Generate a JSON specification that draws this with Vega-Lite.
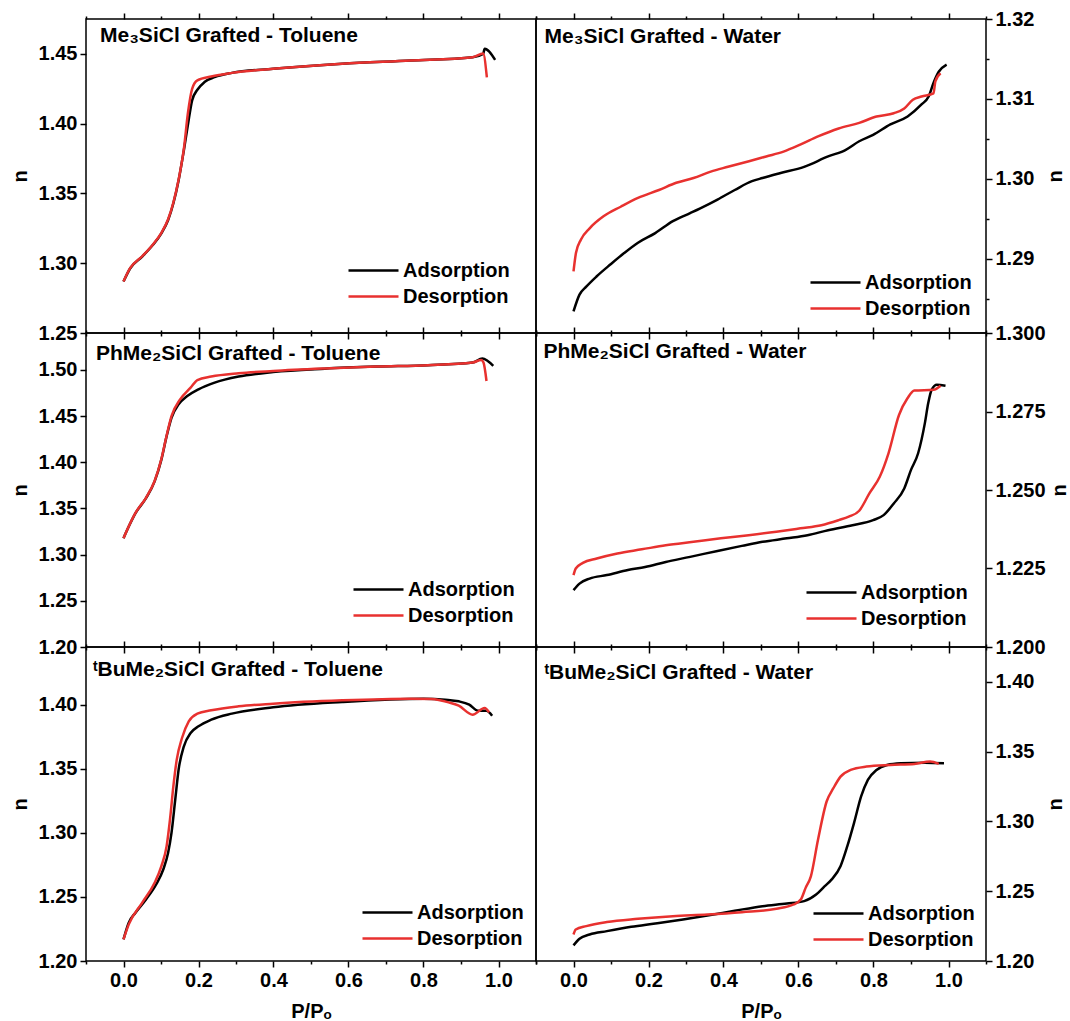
{
"$schema":"https://vega.github.io/schema/vega-lite/v6.json",
"padding":{"left":9,"top":8,"right":2,"bottom":0},
"background":"white",
"config":{
 "view":{"stroke":"black","strokeWidth":1.5},
 "concat":{"spacing":0},
 "axis":{"grid":false,"domain":false,"tickColor":"black","tickWidth":1.5,"labelFont":"Liberation Sans","labelFontSize":20,"labelFontWeight":"bold","labelColor":"black","titleFont":"Liberation Sans","titleFontSize":20,"titleFontWeight":"bold","titleColor":"black","labelOverlap":false,"labelFlush":false,"labelPadding":3},
 "axisLeft":{"titlePadding":8},
 "axisRight":{"titlePadding":12,"titleAngle":270,"titleBaseline":"top"},
 "legend":{"title":null,"orient":"bottom-right","symbolType":"M-2.5,0L2.5,0","symbolSize":400,"symbolStrokeWidth":2.5,"labelFont":"Liberation Sans","labelFontSize":20,"labelFontWeight":"bold","labelColor":"black","labelOffset":18,"rowPadding":4,"padding":0},
 "text":{"font":"Liberation Sans"}
},
"datasets":{
"p1":[
{"x":0,"n":1.2869,"branch":"Adsorption"},{"x":0.018,"n":1.2964,"branch":"Adsorption"},{"x":0.05,"n":1.3048,"branch":"Adsorption"},{"x":0.078,"n":1.313,"branch":"Adsorption"},{"x":0.101,"n":1.3214,"branch":"Adsorption"},{"x":0.119,"n":1.331,"branch":"Adsorption"},{"x":0.133,"n":1.343,"branch":"Adsorption"},{"x":0.147,"n":1.3595,"branch":"Adsorption"},{"x":0.161,"n":1.381,"branch":"Adsorption"},{"x":0.174,"n":1.403,"branch":"Adsorption"},{"x":0.183,"n":1.4167,"branch":"Adsorption"},{"x":0.197,"n":1.4243,"branch":"Adsorption"},{"x":0.216,"n":1.4298,"branch":"Adsorption"},{"x":0.243,"n":1.4333,"branch":"Adsorption"},{"x":0.289,"n":1.4364,"branch":"Adsorption"},{"x":0.399,"n":1.4393,"branch":"Adsorption"},{"x":0.583,"n":1.4429,"branch":"Adsorption"},{"x":0.766,"n":1.4452,"branch":"Adsorption"},{"x":0.931,"n":1.4476,"branch":"Adsorption"},{"x":0.959,"n":1.45,"branch":"Adsorption"},{"x":0.963,"n":1.4536,"branch":"Adsorption"},{"x":0.991,"n":1.4457,"branch":"Adsorption"},
{"x":0,"n":1.2869,"branch":"Desorption"},{"x":0.018,"n":1.2966,"branch":"Desorption"},{"x":0.05,"n":1.305,"branch":"Desorption"},{"x":0.078,"n":1.3133,"branch":"Desorption"},{"x":0.101,"n":1.3218,"branch":"Desorption"},{"x":0.119,"n":1.3315,"branch":"Desorption"},{"x":0.133,"n":1.3435,"branch":"Desorption"},{"x":0.147,"n":1.36,"branch":"Desorption"},{"x":0.161,"n":1.382,"branch":"Desorption"},{"x":0.172,"n":1.408,"branch":"Desorption"},{"x":0.183,"n":1.425,"branch":"Desorption"},{"x":0.197,"n":1.431,"branch":"Desorption"},{"x":0.234,"n":1.4338,"branch":"Desorption"},{"x":0.289,"n":1.4364,"branch":"Desorption"},{"x":0.399,"n":1.4393,"branch":"Desorption"},{"x":0.583,"n":1.4429,"branch":"Desorption"},{"x":0.766,"n":1.4452,"branch":"Desorption"},{"x":0.931,"n":1.4476,"branch":"Desorption"},{"x":0.959,"n":1.4502,"branch":"Desorption"},{"x":0.969,"n":1.4331,"branch":"Desorption"}
],
"p2":[
{"x":0,"n":1.2834,"branch":"Adsorption"},{"x":0.016,"n":1.2855,"branch":"Adsorption"},{"x":0.034,"n":1.2865,"branch":"Adsorption"},{"x":0.062,"n":1.2878,"branch":"Adsorption"},{"x":0.099,"n":1.2893,"branch":"Adsorption"},{"x":0.135,"n":1.2907,"branch":"Adsorption"},{"x":0.172,"n":1.292,"branch":"Adsorption"},{"x":0.218,"n":1.2932,"branch":"Adsorption"},{"x":0.265,"n":1.2947,"branch":"Adsorption"},{"x":0.311,"n":1.2957,"branch":"Adsorption"},{"x":0.338,"n":1.2963,"branch":"Adsorption"},{"x":0.384,"n":1.2974,"branch":"Adsorption"},{"x":0.43,"n":1.2986,"branch":"Adsorption"},{"x":0.476,"n":1.2997,"branch":"Adsorption"},{"x":0.504,"n":1.3001,"branch":"Adsorption"},{"x":0.55,"n":1.3007,"branch":"Adsorption"},{"x":0.615,"n":1.3015,"branch":"Adsorption"},{"x":0.679,"n":1.3028,"branch":"Adsorption"},{"x":0.725,"n":1.3036,"branch":"Adsorption"},{"x":0.762,"n":1.3047,"branch":"Adsorption"},{"x":0.799,"n":1.3055,"branch":"Adsorption"},{"x":0.845,"n":1.3068,"branch":"Adsorption"},{"x":0.891,"n":1.3078,"branch":"Adsorption"},{"x":0.928,"n":1.3093,"branch":"Adsorption"},{"x":0.947,"n":1.3103,"branch":"Adsorption"},{"x":0.96,"n":1.312,"branch":"Adsorption"},{"x":0.974,"n":1.3134,"branch":"Adsorption"},{"x":0.995,"n":1.3143,"branch":"Adsorption"},
{"x":0,"n":1.2884,"branch":"Desorption"},{"x":0.0065,"n":1.2907,"branch":"Desorption"},{"x":0.02,"n":1.2924,"branch":"Desorption"},{"x":0.043,"n":1.2938,"branch":"Desorption"},{"x":0.08,"n":1.2953,"branch":"Desorption"},{"x":0.126,"n":1.2965,"branch":"Desorption"},{"x":0.172,"n":1.2976,"branch":"Desorption"},{"x":0.228,"n":1.2986,"branch":"Desorption"},{"x":0.274,"n":1.2995,"branch":"Desorption"},{"x":0.32,"n":1.3001,"branch":"Desorption"},{"x":0.366,"n":1.3009,"branch":"Desorption"},{"x":0.412,"n":1.3015,"branch":"Desorption"},{"x":0.468,"n":1.3022,"branch":"Desorption"},{"x":0.514,"n":1.3028,"branch":"Desorption"},{"x":0.56,"n":1.3034,"branch":"Desorption"},{"x":0.606,"n":1.3043,"branch":"Desorption"},{"x":0.652,"n":1.3053,"branch":"Desorption"},{"x":0.707,"n":1.3063,"branch":"Desorption"},{"x":0.762,"n":1.307,"branch":"Desorption"},{"x":0.808,"n":1.3078,"branch":"Desorption"},{"x":0.854,"n":1.3082,"branch":"Desorption"},{"x":0.882,"n":1.3088,"branch":"Desorption"},{"x":0.905,"n":1.3099,"branch":"Desorption"},{"x":0.928,"n":1.3103,"branch":"Desorption"},{"x":0.96,"n":1.3107,"branch":"Desorption"},{"x":0.965,"n":1.3122,"branch":"Desorption"},{"x":0.979,"n":1.3132,"branch":"Desorption"}
],
"p3":[
{"x":0,"n":1.3178,"branch":"Adsorption"},{"x":0.014,"n":1.3304,"branch":"Adsorption"},{"x":0.032,"n":1.3449,"branch":"Adsorption"},{"x":0.06,"n":1.3612,"branch":"Adsorption"},{"x":0.083,"n":1.3793,"branch":"Adsorption"},{"x":0.101,"n":1.4029,"branch":"Adsorption"},{"x":0.115,"n":1.4283,"branch":"Adsorption"},{"x":0.128,"n":1.4482,"branch":"Adsorption"},{"x":0.147,"n":1.4627,"branch":"Adsorption"},{"x":0.17,"n":1.4717,"branch":"Adsorption"},{"x":0.2,"n":1.479,"branch":"Adsorption"},{"x":0.243,"n":1.4862,"branch":"Adsorption"},{"x":0.307,"n":1.4928,"branch":"Adsorption"},{"x":0.399,"n":1.4978,"branch":"Adsorption"},{"x":0.537,"n":1.5014,"branch":"Adsorption"},{"x":0.674,"n":1.5036,"branch":"Adsorption"},{"x":0.812,"n":1.5051,"branch":"Adsorption"},{"x":0.931,"n":1.508,"branch":"Adsorption"},{"x":0.957,"n":1.5123,"branch":"Adsorption"},{"x":0.986,"n":1.5043,"branch":"Adsorption"},
{"x":0,"n":1.3178,"branch":"Desorption"},{"x":0.014,"n":1.3306,"branch":"Desorption"},{"x":0.032,"n":1.3452,"branch":"Desorption"},{"x":0.06,"n":1.3616,"branch":"Desorption"},{"x":0.083,"n":1.3798,"branch":"Desorption"},{"x":0.101,"n":1.4035,"branch":"Desorption"},{"x":0.115,"n":1.429,"branch":"Desorption"},{"x":0.128,"n":1.45,"branch":"Desorption"},{"x":0.151,"n":1.4681,"branch":"Desorption"},{"x":0.179,"n":1.4808,"branch":"Desorption"},{"x":0.197,"n":1.4891,"branch":"Desorption"},{"x":0.234,"n":1.4928,"branch":"Desorption"},{"x":0.307,"n":1.4964,"branch":"Desorption"},{"x":0.399,"n":1.4989,"branch":"Desorption"},{"x":0.537,"n":1.5016,"branch":"Desorption"},{"x":0.674,"n":1.5037,"branch":"Desorption"},{"x":0.812,"n":1.5052,"branch":"Desorption"},{"x":0.931,"n":1.508,"branch":"Desorption"},{"x":0.954,"n":1.5109,"branch":"Desorption"},{"x":0.96,"n":1.508,"branch":"Desorption"},{"x":0.968,"n":1.488,"branch":"Desorption"}
],
"p4":[
{"x":0,"n":1.2181,"branch":"Adsorption"},{"x":0.016,"n":1.2202,"branch":"Adsorption"},{"x":0.043,"n":1.2218,"branch":"Adsorption"},{"x":0.089,"n":1.2229,"branch":"Adsorption"},{"x":0.145,"n":1.2245,"branch":"Adsorption"},{"x":0.191,"n":1.2255,"branch":"Adsorption"},{"x":0.246,"n":1.2271,"branch":"Adsorption"},{"x":0.311,"n":1.2287,"branch":"Adsorption"},{"x":0.384,"n":1.2306,"branch":"Adsorption"},{"x":0.449,"n":1.2322,"branch":"Adsorption"},{"x":0.504,"n":1.2335,"branch":"Adsorption"},{"x":0.569,"n":1.2346,"branch":"Adsorption"},{"x":0.624,"n":1.2356,"branch":"Adsorption"},{"x":0.679,"n":1.2372,"branch":"Adsorption"},{"x":0.744,"n":1.2388,"branch":"Adsorption"},{"x":0.799,"n":1.2404,"branch":"Adsorption"},{"x":0.827,"n":1.242,"branch":"Adsorption"},{"x":0.854,"n":1.2457,"branch":"Adsorption"},{"x":0.882,"n":1.2505,"branch":"Adsorption"},{"x":0.9,"n":1.2564,"branch":"Adsorption"},{"x":0.919,"n":1.2617,"branch":"Adsorption"},{"x":0.937,"n":1.2713,"branch":"Adsorption"},{"x":0.946,"n":1.2777,"branch":"Adsorption"},{"x":0.955,"n":1.2819,"branch":"Adsorption"},{"x":0.969,"n":1.2835,"branch":"Adsorption"},{"x":0.992,"n":1.2832,"branch":"Adsorption"},
{"x":0,"n":1.2229,"branch":"Desorption"},{"x":0.006,"n":1.225,"branch":"Desorption"},{"x":0.025,"n":1.2268,"branch":"Desorption"},{"x":0.062,"n":1.2282,"branch":"Desorption"},{"x":0.117,"n":1.2298,"branch":"Desorption"},{"x":0.182,"n":1.2311,"branch":"Desorption"},{"x":0.246,"n":1.2324,"branch":"Desorption"},{"x":0.32,"n":1.2335,"branch":"Desorption"},{"x":0.393,"n":1.2346,"branch":"Desorption"},{"x":0.467,"n":1.2356,"branch":"Desorption"},{"x":0.541,"n":1.2367,"branch":"Desorption"},{"x":0.605,"n":1.2378,"branch":"Desorption"},{"x":0.661,"n":1.2388,"branch":"Desorption"},{"x":0.707,"n":1.2404,"branch":"Desorption"},{"x":0.734,"n":1.2415,"branch":"Desorption"},{"x":0.762,"n":1.2434,"branch":"Desorption"},{"x":0.789,"n":1.2489,"branch":"Desorption"},{"x":0.817,"n":1.2543,"branch":"Desorption"},{"x":0.84,"n":1.2617,"branch":"Desorption"},{"x":0.868,"n":1.2739,"branch":"Desorption"},{"x":0.891,"n":1.2793,"branch":"Desorption"},{"x":0.909,"n":1.2817,"branch":"Desorption"},{"x":0.96,"n":1.2819,"branch":"Desorption"},{"x":0.979,"n":1.2832,"branch":"Desorption"}
],
"p5":[
{"x":0,"n":1.2169,"branch":"Adsorption"},{"x":0.014,"n":1.2299,"branch":"Adsorption"},{"x":0.032,"n":1.2377,"branch":"Adsorption"},{"x":0.06,"n":1.248,"branch":"Adsorption"},{"x":0.087,"n":1.2597,"branch":"Adsorption"},{"x":0.106,"n":1.2714,"branch":"Adsorption"},{"x":0.119,"n":1.2844,"branch":"Adsorption"},{"x":0.128,"n":1.3,"branch":"Adsorption"},{"x":0.138,"n":1.326,"branch":"Adsorption"},{"x":0.147,"n":1.3494,"branch":"Adsorption"},{"x":0.161,"n":1.3675,"branch":"Adsorption"},{"x":0.179,"n":1.3779,"branch":"Adsorption"},{"x":0.2,"n":1.3831,"branch":"Adsorption"},{"x":0.234,"n":1.3883,"branch":"Adsorption"},{"x":0.289,"n":1.393,"branch":"Adsorption"},{"x":0.399,"n":1.3979,"branch":"Adsorption"},{"x":0.583,"n":1.4021,"branch":"Adsorption"},{"x":0.8,"n":1.4047,"branch":"Adsorption"},{"x":0.858,"n":1.4039,"branch":"Adsorption"},{"x":0.894,"n":1.4026,"branch":"Adsorption"},{"x":0.922,"n":1.4,"branch":"Adsorption"},{"x":0.945,"n":1.3953,"branch":"Adsorption"},{"x":0.968,"n":1.3953,"branch":"Adsorption"},{"x":0.983,"n":1.3914,"branch":"Adsorption"},
{"x":0,"n":1.2169,"branch":"Desorption"},{"x":0.014,"n":1.2286,"branch":"Desorption"},{"x":0.05,"n":1.2455,"branch":"Desorption"},{"x":0.083,"n":1.261,"branch":"Desorption"},{"x":0.101,"n":1.274,"branch":"Desorption"},{"x":0.115,"n":1.2896,"branch":"Desorption"},{"x":0.124,"n":1.3104,"branch":"Desorption"},{"x":0.133,"n":1.3364,"branch":"Desorption"},{"x":0.142,"n":1.3571,"branch":"Desorption"},{"x":0.156,"n":1.374,"branch":"Desorption"},{"x":0.174,"n":1.387,"branch":"Desorption"},{"x":0.197,"n":1.393,"branch":"Desorption"},{"x":0.234,"n":1.3956,"branch":"Desorption"},{"x":0.307,"n":1.3987,"branch":"Desorption"},{"x":0.399,"n":1.4008,"branch":"Desorption"},{"x":0.583,"n":1.4034,"branch":"Desorption"},{"x":0.766,"n":1.4047,"branch":"Desorption"},{"x":0.821,"n":1.4044,"branch":"Desorption"},{"x":0.867,"n":1.4018,"branch":"Desorption"},{"x":0.894,"n":1.3992,"branch":"Desorption"},{"x":0.931,"n":1.3922,"branch":"Desorption"},{"x":0.963,"n":1.3974,"branch":"Desorption"},{"x":0.975,"n":1.394,"branch":"Desorption"}
],
"p6":[
{"x":0,"n":1.2112,"branch":"Adsorption"},{"x":0.016,"n":1.216,"branch":"Adsorption"},{"x":0.043,"n":1.219,"branch":"Adsorption"},{"x":0.089,"n":1.2214,"branch":"Adsorption"},{"x":0.154,"n":1.2245,"branch":"Adsorption"},{"x":0.218,"n":1.2269,"branch":"Adsorption"},{"x":0.292,"n":1.2298,"branch":"Adsorption"},{"x":0.357,"n":1.2326,"branch":"Adsorption"},{"x":0.43,"n":1.236,"branch":"Adsorption"},{"x":0.504,"n":1.2393,"branch":"Adsorption"},{"x":0.569,"n":1.2412,"branch":"Adsorption"},{"x":0.615,"n":1.2429,"branch":"Adsorption"},{"x":0.647,"n":1.2476,"branch":"Adsorption"},{"x":0.67,"n":1.2536,"branch":"Adsorption"},{"x":0.688,"n":1.2583,"branch":"Adsorption"},{"x":0.712,"n":1.2679,"branch":"Adsorption"},{"x":0.73,"n":1.2821,"branch":"Adsorption"},{"x":0.748,"n":1.2988,"branch":"Adsorption"},{"x":0.767,"n":1.3179,"branch":"Adsorption"},{"x":0.785,"n":1.3298,"branch":"Adsorption"},{"x":0.808,"n":1.3369,"branch":"Adsorption"},{"x":0.836,"n":1.3405,"branch":"Adsorption"},{"x":0.873,"n":1.3417,"branch":"Adsorption"},{"x":0.937,"n":1.3421,"branch":"Adsorption"},{"x":0.988,"n":1.3417,"branch":"Adsorption"},
{"x":0,"n":1.219,"branch":"Desorption"},{"x":0.006,"n":1.2226,"branch":"Desorption"},{"x":0.034,"n":1.225,"branch":"Desorption"},{"x":0.089,"n":1.2279,"branch":"Desorption"},{"x":0.172,"n":1.2302,"branch":"Desorption"},{"x":0.265,"n":1.2321,"branch":"Desorption"},{"x":0.357,"n":1.2333,"branch":"Desorption"},{"x":0.449,"n":1.235,"branch":"Desorption"},{"x":0.541,"n":1.2374,"branch":"Desorption"},{"x":0.587,"n":1.2405,"branch":"Desorption"},{"x":0.606,"n":1.244,"branch":"Desorption"},{"x":0.619,"n":1.2524,"branch":"Desorption"},{"x":0.633,"n":1.2607,"branch":"Desorption"},{"x":0.652,"n":1.2869,"branch":"Desorption"},{"x":0.675,"n":1.3143,"branch":"Desorption"},{"x":0.693,"n":1.3238,"branch":"Desorption"},{"x":0.712,"n":1.3321,"branch":"Desorption"},{"x":0.739,"n":1.3369,"branch":"Desorption"},{"x":0.781,"n":1.3393,"branch":"Desorption"},{"x":0.845,"n":1.3405,"branch":"Desorption"},{"x":0.909,"n":1.3412,"branch":"Desorption"},{"x":0.951,"n":1.3429,"branch":"Desorption"},{"x":0.974,"n":1.3412,"branch":"Desorption"}
]
},
"columns":2,
"bounds":"flush",
"spacing":0,
"resolve":{"scale":{"color":"independent"},"legend":{"color":"independent"}},
"concat":[
{
 "width":450,"height":314,
 "layer":[
  {"data":{"name":"p1"},"mark":{"type":"line","strokeWidth":2.5,"interpolate":"monotone"},
   "encoding":{
    "x":{"field":"x","type":"quantitative","scale":{"domain":[-0.1,1.1],"nice":false,"zero":false},"axis":{"orient":"bottom","title":null,"labels":false,"values":[-0.1,0,0.1,0.2,0.3,0.4,0.5,0.6,0.7,0.8,0.9,1,1.1],"tickSize":{"condition":{"test":"abs(datum.value*5-round(datum.value*5))<0.01","value":6},"value":3}}},
    "y":{"field":"n","type":"quantitative","scale":{"domain":[1.25,1.475],"nice":false,"zero":false},"axis":{"orient":"left","title":"n","format":".2f","values":[1.25,1.275,1.3,1.325,1.35,1.375,1.4,1.425,1.45],"labelExpr":"abs(datum.value*20-round(datum.value*20))<0.01 ? datum.label : ''","tickSize":{"condition":{"test":"abs(datum.value*20-round(datum.value*20))<0.01","value":6},"value":3}}},
    "color":{"field":"branch","type":"nominal","scale":{"domain":["Adsorption","Desorption"],"range":["#000000","#e8312f"]},"legend":{"offset":26}}
   }},
  {"data":{"values":[{}]},"mark":{"type":"text","align":"left","baseline":"alphabetic","fontSize":21,"fontWeight":"bold","color":"black"},
   "encoding":{
    "x":{"datum":-0.0627,"type":"quantitative","axis":{"orient":"top","title":null,"labels":false,"values":[-0.1,0,0.1,0.2,0.3,0.4,0.5,0.6,0.7,0.8,0.9,1,1.1],"tickSize":{"condition":{"test":"abs(datum.value*5-round(datum.value*5))<0.01","value":6},"value":3}}},
    "y":{"datum":1.4582,"type":"quantitative"},
    "text":{"value":"Me₃SiCl Grafted - Toluene"}}}
 ],
 "resolve":{"axis":{"x":"independent"}}
},
{
 "width":450,"height":314,
 "layer":[
  {"data":{"name":"p2"},"mark":{"type":"line","strokeWidth":2.5,"interpolate":"monotone"},
   "encoding":{
    "x":{"field":"x","type":"quantitative","scale":{"domain":[-0.1,1.1],"nice":false,"zero":false},"axis":{"orient":"bottom","title":null,"labels":false,"values":[-0.1,0,0.1,0.2,0.3,0.4,0.5,0.6,0.7,0.8,0.9,1,1.1],"tickSize":{"condition":{"test":"abs(datum.value*5-round(datum.value*5))<0.01","value":6},"value":3}}},
    "y":{"field":"n","type":"quantitative","scale":{"domain":[1.2807,1.32],"nice":false,"zero":false},"axis":{"orient":"right","title":"n","format":".2f","values":[1.285,1.29,1.295,1.3,1.305,1.31,1.315,1.32],"labelExpr":"abs(datum.value*100-round(datum.value*100))<0.01 ? datum.label : ''","tickSize":{"condition":{"test":"abs(datum.value*100-round(datum.value*100))<0.01","value":6},"value":3}}},
    "color":{"field":"branch","type":"nominal","scale":{"domain":["Adsorption","Desorption"],"range":["#000000","#e8312f"]},"legend":{"offset":14}}
   }},
  {"data":{"values":[{}]},"mark":{"type":"text","align":"left","baseline":"alphabetic","fontSize":21,"fontWeight":"bold","color":"black"},
   "encoding":{
    "x":{"datum":-0.0773,"type":"quantitative","axis":{"orient":"top","title":null,"labels":false,"values":[-0.1,0,0.1,0.2,0.3,0.4,0.5,0.6,0.7,0.8,0.9,1,1.1],"tickSize":{"condition":{"test":"abs(datum.value*5-round(datum.value*5))<0.01","value":6},"value":3}}},
    "y":{"datum":1.317,"type":"quantitative"},
    "text":{"value":"Me₃SiCl Grafted - Water"}}}
 ],
 "resolve":{"axis":{"x":"independent"}}
},
{
 "width":450,"height":314,
 "layer":[
  {"data":{"name":"p3"},"mark":{"type":"line","strokeWidth":2.5,"interpolate":"monotone"},
   "encoding":{
    "x":{"field":"x","type":"quantitative","scale":{"domain":[-0.1,1.1],"nice":false,"zero":false},"axis":{"orient":"bottom","title":null,"labels":false,"values":[-0.1,0,0.1,0.2,0.3,0.4,0.5,0.6,0.7,0.8,0.9,1,1.1],"tickSize":{"condition":{"test":"abs(datum.value*5-round(datum.value*5))<0.01","value":6},"value":3}}},
    "y":{"field":"n","type":"quantitative","scale":{"domain":[1.2,1.54],"nice":false,"zero":false},"axis":{"orient":"left","title":"n","format":".2f","values":[1.2,1.225,1.25,1.275,1.3,1.325,1.35,1.375,1.4,1.425,1.45,1.475,1.5,1.525],"labelExpr":"abs(datum.value*20-round(datum.value*20))<0.01 ? datum.label : ''","tickSize":{"condition":{"test":"abs(datum.value*20-round(datum.value*20))<0.01","value":6},"value":3}}},
    "color":{"field":"branch","type":"nominal","scale":{"domain":["Adsorption","Desorption"],"range":["#000000","#e8312f"]},"legend":{"offset":21}}
   }},
  {"data":{"values":[{}]},"mark":{"type":"text","align":"left","baseline":"alphabetic","fontSize":21,"fontWeight":"bold","color":"black"},
   "encoding":{
    "x":{"datum":-0.0733,"type":"quantitative","axis":{"orient":"top","title":null,"labels":false,"values":[-0.1,0,0.1,0.2,0.3,0.4,0.5,0.6,0.7,0.8,0.9,1,1.1],"tickSize":{"condition":{"test":"abs(datum.value*5-round(datum.value*5))<0.01","value":6},"value":3}}},
    "y":{"datum":1.5113,"type":"quantitative"},
    "text":{"value":"PhMe₂SiCl Grafted - Toluene"}}}
 ],
 "resolve":{"axis":{"x":"independent"}}
},
{
 "width":450,"height":314,
 "layer":[
  {"data":{"name":"p4"},"mark":{"type":"line","strokeWidth":2.5,"interpolate":"monotone"},
   "encoding":{
    "x":{"field":"x","type":"quantitative","scale":{"domain":[-0.1,1.1],"nice":false,"zero":false},"axis":{"orient":"bottom","title":null,"labels":false,"values":[-0.1,0,0.1,0.2,0.3,0.4,0.5,0.6,0.7,0.8,0.9,1,1.1],"tickSize":{"condition":{"test":"abs(datum.value*5-round(datum.value*5))<0.01","value":6},"value":3}}},
    "y":{"field":"n","type":"quantitative","scale":{"domain":[1.2,1.3],"nice":false,"zero":false},"axis":{"orient":"right","title":"n","titlePadding":4,"format":".3f","values":[1.2,1.2125,1.225,1.2375,1.25,1.2625,1.275,1.2875,1.3],"labelExpr":"abs(datum.value*40-round(datum.value*40))<0.01 ? datum.label : ''","tickSize":{"condition":{"test":"abs(datum.value*40-round(datum.value*40))<0.01","value":6},"value":3}}},
    "color":{"field":"branch","type":"nominal","scale":{"domain":["Adsorption","Desorption"],"range":["#000000","#e8312f"]},"legend":{"offset":18}}
   }},
  {"data":{"values":[{}]},"mark":{"type":"text","align":"left","baseline":"alphabetic","fontSize":21,"fontWeight":"bold","color":"black"},
   "encoding":{
    "x":{"datum":-0.08,"type":"quantitative","axis":{"orient":"top","title":null,"labels":false,"values":[-0.1,0,0.1,0.2,0.3,0.4,0.5,0.6,0.7,0.8,0.9,1,1.1],"tickSize":{"condition":{"test":"abs(datum.value*5-round(datum.value*5))<0.01","value":6},"value":3}}},
    "y":{"datum":1.2919,"type":"quantitative"},
    "text":{"value":"PhMe₂SiCl Grafted - Water"}}}
 ],
 "resolve":{"axis":{"x":"independent"}}
},
{
 "width":450,"height":314,
 "layer":[
  {"data":{"name":"p5"},"mark":{"type":"line","strokeWidth":2.5,"interpolate":"monotone"},
   "encoding":{
    "x":{"field":"x","type":"quantitative","scale":{"domain":[-0.1,1.1],"nice":false,"zero":false},"axis":{"orient":"bottom","title":"P/Pₒ","titlePadding":11,"format":".1f","labelExpr":"abs(datum.value*5-round(datum.value*5))<0.01 ? datum.label : ''","values":[-0.1,0,0.1,0.2,0.3,0.4,0.5,0.6,0.7,0.8,0.9,1,1.1],"tickSize":{"condition":{"test":"abs(datum.value*5-round(datum.value*5))<0.01","value":6},"value":3}}},
    "y":{"field":"n","type":"quantitative","scale":{"domain":[1.2,1.445],"nice":false,"zero":false},"axis":{"orient":"left","title":"n","format":".2f","values":[1.2,1.225,1.25,1.275,1.3,1.325,1.35,1.375,1.4,1.425],"labelExpr":"abs(datum.value*20-round(datum.value*20))<0.01 ? datum.label : ''","tickSize":{"condition":{"test":"abs(datum.value*20-round(datum.value*20))<0.01","value":6},"value":3}}},
    "color":{"field":"branch","type":"nominal","scale":{"domain":["Adsorption","Desorption"],"range":["#000000","#e8312f"]},"legend":{"offset":12}}
   }},
  {"data":{"values":[{}]},"mark":{"type":"text","align":"left","baseline":"alphabetic","fontSize":21,"fontWeight":"bold","color":"black"},
   "encoding":{
    "x":{"datum":-0.0813,"type":"quantitative","axis":{"orient":"top","title":null,"labels":false,"values":[-0.1,0,0.1,0.2,0.3,0.4,0.5,0.6,0.7,0.8,0.9,1,1.1],"tickSize":{"condition":{"test":"abs(datum.value*5-round(datum.value*5))<0.01","value":6},"value":3}}},
    "y":{"datum":1.4226,"type":"quantitative"},
    "text":{"value":"ᵗBuMe₂SiCl Grafted - Toluene"}}}
 ],
 "resolve":{"axis":{"x":"independent"}}
},
{
 "width":450,"height":314,
 "layer":[
  {"data":{"name":"p6"},"mark":{"type":"line","strokeWidth":2.5,"interpolate":"monotone"},
   "encoding":{
    "x":{"field":"x","type":"quantitative","scale":{"domain":[-0.1,1.1],"nice":false,"zero":false},"axis":{"orient":"bottom","title":"P/Pₒ","titlePadding":11,"format":".1f","labelExpr":"abs(datum.value*5-round(datum.value*5))<0.01 ? datum.label : ''","values":[-0.1,0,0.1,0.2,0.3,0.4,0.5,0.6,0.7,0.8,0.9,1,1.1],"tickSize":{"condition":{"test":"abs(datum.value*5-round(datum.value*5))<0.01","value":6},"value":3}}},
    "y":{"field":"n","type":"quantitative","scale":{"domain":[1.2,1.425],"nice":false,"zero":false},"axis":{"orient":"right","title":"n","format":".2f","values":[1.2,1.225,1.25,1.275,1.3,1.325,1.35,1.375,1.4],"labelExpr":"abs(datum.value*20-round(datum.value*20))<0.01 ? datum.label : ''","tickSize":{"condition":{"test":"abs(datum.value*20-round(datum.value*20))<0.01","value":6},"value":3}}},
    "color":{"field":"branch","type":"nominal","scale":{"domain":["Adsorption","Desorption"],"range":["#000000","#e8312f"]},"legend":{"offset":11}}
   }},
  {"data":{"values":[{}]},"mark":{"type":"text","align":"left","baseline":"alphabetic","fontSize":21,"fontWeight":"bold","color":"black"},
   "encoding":{
    "x":{"datum":-0.0773,"type":"quantitative","axis":{"orient":"top","title":null,"labels":false,"values":[-0.1,0,0.1,0.2,0.3,0.4,0.5,0.6,0.7,0.8,0.9,1,1.1],"tickSize":{"condition":{"test":"abs(datum.value*5-round(datum.value*5))<0.01","value":6},"value":3}}},
    "y":{"datum":1.4021,"type":"quantitative"},
    "text":{"value":"ᵗBuMe₂SiCl Grafted - Water"}}}
 ],
 "resolve":{"axis":{"x":"independent"}}
}
]
}
